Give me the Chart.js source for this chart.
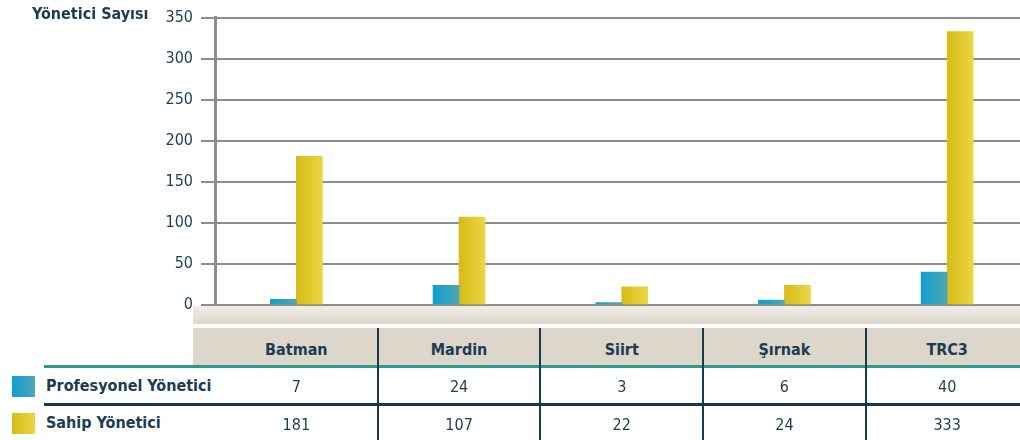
<!DOCTYPE html>
<html>
<head>
<meta charset="utf-8">
<script src="https://cdn.jsdelivr.net/npm/chart.js@4"></script>
<style>
  html, body { margin:0; padding:0; width:1020px; height:440px; overflow:hidden; background:#fff; }
  body { position:relative; font-family:'DejaVu Sans Condensed','Liberation Sans Narrow',sans-serif; color:#1b3c52; }
  #wrap { position:absolute; left:0; top:0; }
  .abs { position:absolute; }
  .txt { position:absolute; transform:translate(-50%,-50%); white-space:nowrap; font-size:16px; }
  .b { font-weight:bold; }
</style>
</head>
<body>
<div id="wrap"><canvas id="chart" width="1030" height="330"></canvas></div>
<div class="abs b" style="left:32px;top:4px;font-size:16px;">Yönetici Sayısı</div>
<div id="table"></div>
<script>
const categories = ['Batman', 'Mardin', 'Siirt', 'Şırnak', 'TRC3'];
const profesyonel = [7, 24, 3, 6, 40];
const sahip = [181, 107, 22, 24, 333];
const seriesNames = ['Profesyonel Yönetici', 'Sahip Yönetici'];
const yTicks = [0, 50, 100, 150, 200, 250, 300, 350];

const BAR_W = 26;
const BLUE = ['#0f9fd0', '#4ea7b4'];
const YELLOW = ['#d7bc16', '#ebd642'];

function barFill(ctx, cols, side) {
  const chart = ctx.chart;
  const xs = chart.scales.x;
  if (!xs || !chart.chartArea || ctx.dataIndex === undefined) return cols[0];
  const cx = xs.getPixelForValue(ctx.dataIndex);
  const x0 = side < 0 ? cx - BAR_W : cx;
  const g = chart.ctx.createLinearGradient(x0, 0, x0 + BAR_W, 0);
  g.addColorStop(0, cols[0]);
  g.addColorStop(1, cols[1]);
  return g;
}

const chart = new Chart(document.getElementById('chart'), {
  type: 'bar',
  data: {
    labels: categories,
    datasets: [
      { label: seriesNames[0], data: profesyonel, backgroundColor: c => barFill(c, BLUE, -1) },
      { label: seriesNames[1], data: sahip, backgroundColor: c => barFill(c, YELLOW, 1) }
    ]
  },
  options: {
    responsive: false,
    animation: false,
    layout: { padding: { top: 14, bottom: 25, left: 0, right: 1.5 } },
    plugins: { legend: { display: false }, tooltip: { enabled: false } },
    datasets: { bar: { barThickness: BAR_W } },
    scales: {
      x: { display: false },
      y: {
        min: 0, max: 350,
        afterFit: s => { s.width = 215; },
        afterBuildTicks: s => { s.ticks = yTicks.map(v => ({ value: v })); },
        grid: { color: '#8d8d8d', lineWidth: 2, tickLength: 14, drawTicks: true },
        border: { color: '#8d8d8d', width: 3 },
        ticks: {
          padding: 8,
          color: '#1b3c52',
          font: { family: "'DejaVu Sans Condensed','Liberation Sans Narrow',sans-serif", size: 16 }
        }
      }
    }
  }
});

// table under the chart, columns centred on the category positions
const xs = chart.scales.x;
const centers = categories.map((c, i) => xs.getPixelForValue(i));
let html = '';
html += '<div class="abs" style="left:193px;top:306px;width:827px;height:18px;background:linear-gradient(#f1eee8,#ddd6ca);"></div>';
html += '<div class="abs" style="left:193px;top:328px;width:827px;height:38px;background:#ddd6cb;"></div>';
html += '<div class="abs" style="left:44px;top:365px;width:976px;height:3px;background:#2b9a88;"></div>';
html += '<div class="abs" style="left:44px;top:403px;width:976px;height:3px;background:#173a4e;"></div>';
for (let i = 0; i < centers.length - 1; i++) {
  const x = Math.round((centers[i] + centers[i + 1]) / 2) - 1;
  html += '<div class="abs" style="left:' + x + 'px;top:328px;width:2px;height:112px;background:#173a4e;"></div>';
}
categories.forEach((c, i) => {
  html += '<div class="txt b" style="left:' + centers[i] + 'px;top:349px;">' + c + '</div>';
  html += '<div class="txt" style="left:' + centers[i] + 'px;top:386px;">' + profesyonel[i] + '</div>';
  html += '<div class="txt" style="left:' + centers[i] + 'px;top:424px;">' + sahip[i] + '</div>';
});
html += '<div class="abs" style="left:12px;top:376px;width:23px;height:21px;background:linear-gradient(90deg,' + BLUE[0] + ',' + BLUE[1] + ');"></div>';
html += '<div class="abs" style="left:12px;top:413px;width:23px;height:21px;background:linear-gradient(90deg,' + YELLOW[0] + ',' + YELLOW[1] + ');"></div>';
html += '<div class="abs b" style="left:46px;top:376px;font-size:16px;">' + seriesNames[0] + '</div>';
html += '<div class="abs b" style="left:46px;top:413px;font-size:16px;">' + seriesNames[1] + '</div>';
document.getElementById('table').innerHTML = html;
</script>
</body>
</html>
